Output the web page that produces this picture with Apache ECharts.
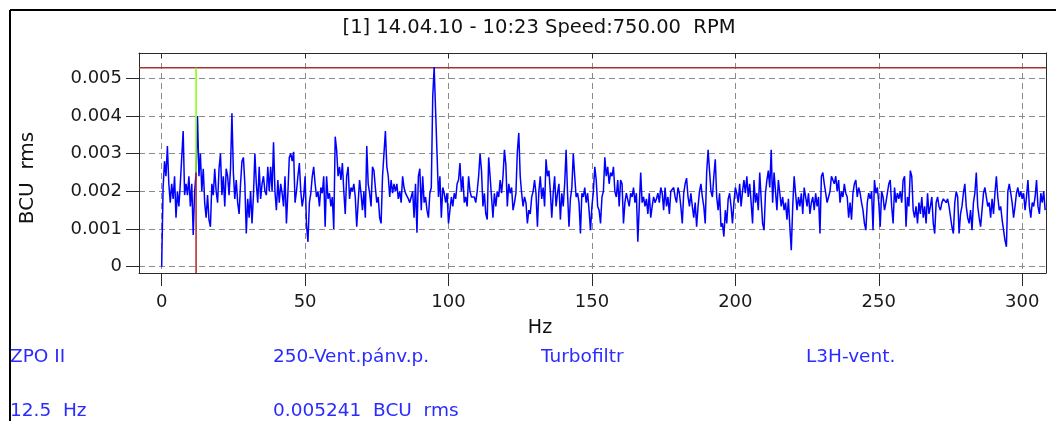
<!DOCTYPE html>
<html><head><meta charset="utf-8">
<script src="https://cdn.jsdelivr.net/npm/echarts@6/dist/echarts.min.js"></script>
<style>html,body{margin:0;padding:0;background:#fff}#c{width:1056px;height:421px}</style>
</head><body><div id="c"></div>
<script>
// ---- data ----
const titleText = '[1] 14.04.10 - 10:23 Speed:750.00  RPM';
const xName = 'Hz';
const yName = 'BCU  rms';
const xTicks = [0, 50, 100, 150, 200, 250, 300];
const yTicks = [0, 0.001, 0.002, 0.003, 0.004, 0.005];
const xRange = [-7.9, 308.3];
const yRange = [-0.000167, 0.00567];
const freqStep = 0.5;           // Hz between spectrum lines
// amplitude in units of 0.001 BCU rms, one value per spectrum line (0 .. 308 Hz)
const amplitudeMilli = [
 0,2.1,2.8,2.4,3.2,2.2,1.7,2.2,1.8,2.4,
 1.3,2.0,1.6,2.2,2.9,3.6,1.9,2.2,1.9,2.4,
 1.6,2.2,0.84,2.0,2.5,4.0,2.4,3.0,2.0,2.6,
 1.7,1.3,1.9,1.24,1.06,2.2,1.9,2.6,2.0,1.7,
 2.6,3.0,1.9,2.4,1.6,2.6,2.4,1.9,2.6,4.07,
 2.5,1.8,2.3,1.7,1.4,2.2,2.8,2.9,2.2,0.88,
 1.8,1.3,2.0,1.15,1.9,3.0,2.2,1.7,2.65,1.8,
 2.2,2.4,2.0,1.9,2.65,2.0,
 2.65,2.0,3.3,2.0,1.5,2.3,1.7,2.2,1.95,1.6,
 2.4,1.15,1.95,2.9,3.0,2.8,3.05,1.7,2.0,2.4,
 2.75,2.0,1.6,1.85,2.4,1.1,0.66,1.7,1.95,2.4,
 2.65,2.2,1.85,2.0,1.6,2.1,1.95,2.4,1.06,2.4,
 1.8,1.95,1.6,1.85,1.0,3.45,3.1,2.4,2.65,2.3,
 2.75,2.0,1.4,2.4,2.65,1.8,2.1,2.0,2.2,1.85,
 1.06,1.7,2.3,1.95,1.5,2.0,1.3,3.2,2.2,1.95,
 1.6,2.65,2.55,2.1,1.7,1.85,1.3,1.15,2.4,3.0,
 3.6,2.65,2.4,1.85,2.3,1.95,2.2,2.0,2.2,1.8,
 2.0,1.7,2.4,2.1,1.95,2.0,1.8,1.7,1.85,2.0,
 1.3,2.2,0.9,2.4,2.6,1.5,2.4,1.7,1.85,1.5,
 1.3,1.95,2.1,4.5,5.3,4.15,3.0,1.85,2.4,1.3,
 2.1,1.95,1.7,1.95,1.15,1.5,1.85,1.6,1.95,1.8,
 2.2,2.3,2.75,2.0,2.4,1.7,1.85,1.6,2.4,2.0,
 1.85,1.8,1.85,1.7,2.0,2.4,3.0,2.55,1.6,1.95,
 1.4,1.25,2.9,2.4,1.85,1.3,1.95,1.6,2.0,1.85,
 2.3,1.95,2.4,3.1,2.7,1.6,2.2,1.95,2.1,1.5,
 1.7,1.95,3.05,3.55,2.4,1.95,1.6,1.85,1.7,1.15,
 1.5,1.4,1.85,2.0,2.3,1.95,1.06,2.0,2.4,1.8,
 2.1,1.6,2.85,2.4,2.55,2.0,1.3,1.95,2.4,1.6,
 1.95,2.2,1.25,1.95,1.6,2.2,3.1,1.95,1.06,1.8,
 2.1,3.0,2.4,1.85,1.95,1.7,0.88,1.95,1.85,2.1,
 1.7,1.95,1.5,0.97,1.6,2.0,2.65,2.3,1.6,1.5,
 1.15,1.85,2.0,2.9,2.4,2.65,2.2,2.5,2.4,2.65,
 2.0,1.85,2.3,1.6,2.3,2.2,1.15,1.7,1.95,2.0,
 1.6,1.95,1.85,2.1,1.7,1.95,0.66,1.6,2.5,1.7,
 1.85,1.6,1.8,1.4,1.95,1.3,1.6,1.85,1.7,1.8,
 1.95,1.7,2.1,1.95,1.5,2.1,1.6,1.85,1.4,2.0,
 1.95,2.1,1.85,1.7,2.1,1.95,1.6,1.15,1.95,2.2,
 2.35,1.85,1.6,1.95,1.6,1.3,1.7,1.06,1.6,2.0,
 2.2,1.85,1.6,1.15,2.5,3.1,3.15,2.0,1.85,2.4,
 2.85,1.85,1.5,1.95,1.06,1.15,0.8,1.5,1.15,1.8,
 1.95,
 1.6,1.15,1.7,2.1,1.95,1.7,2.2,1.6,2.0,2.3,
 1.95,2.4,1.85,2.2,1.7,1.15,2.3,1.7,1.95,1.5,
 2.5,1.8,1.15,0.97,1.95,2.3,2.55,2.1,3.1,1.7,
 2.5,2.0,1.5,2.3,1.95,1.6,1.85,1.5,1.7,1.25,
 1.8,1.06,0.44,1.6,2.4,1.95,1.5,1.85,1.6,1.95,
 1.4,2.1,1.85,1.6,1.95,1.4,1.7,1.85,1.5,1.95,
 1.6,1.85,0.88,2.4,2.5,2.2,1.95,1.7,1.85,2.0,
 2.4,2.3,2.2,2.4,2.0,2.3,1.7,2.0,1.85,2.2,
 1.95,1.85,1.3,1.7,1.25,1.95,2.2,2.3,1.85,2.1,
 1.95,1.7,1.5,1.15,0.97,1.7,1.95,1.8,2.0,0.97,
 2.3,1.95,2.1,1.7,1.06,2.0,1.85,1.5,1.7,1.95,
 2.2,2.3,1.6,1.15,2.1,1.7,1.95,1.8,2.0,1.7,
 2.3,2.4,1.06,1.85,1.6,2.55,2.4,1.5,1.3,1.6,
 1.15,1.7,1.4,1.85,1.3,1.6,1.15,1.95,1.4,1.6,
 1.85,1.15,0.88,1.7,1.85,1.6,1.5,1.7,1.8,1.85,
 1.7,1.8,1.6,1.6,1.06,0.88,1.7,2.0,1.85,0.88,
 1.4,1.6,1.95,2.2,1.6,1.3,1.15,1.5,0.97,1.7,
 1.95,2.5,1.6,1.3,1.06,1.5,1.95,2.1,1.85,1.6,
 1.7,1.3,1.8,1.4,1.95,2.4,1.85,1.5,1.6,1.25,
 0.97,0.7,0.53,2.0,2.2,1.95,1.7,1.3,1.6,1.95,
 2.1,1.85,2.0,1.8,1.95,1.5,1.85,2.3,1.6,1.3,
 1.7,1.6,1.85,2.3,1.6,1.4,1.95,1.7,2.0,1.5
];
const cursorHz = 12;
const cursorLevel = 0.00528;   // horizontal red reference line
const cursorSplit = 0.0025;    // where the cursor turns from red to green
const infoRow1 = ['ZPO II', '250-Vent.pánv.p.', 'Turbofiltr', 'L3H-vent.'];
const infoRow2 = ['12.5  Hz', '0.005241  BCU  rms'];

// ---- chart ----
const FONT = 'DejaVu Sans';
const spectrum = amplitudeMilli.map((v, i) => [i * freqStep, v / 1000]);
const chart = echarts.init(document.getElementById('c'));
const infoX = [10, 273, 541, 806];
const graphics = [
  {type:'line', shape:{x1:10, y1:10, x2:1056, y2:10}, style:{stroke:'#000', lineWidth:2}},
  {type:'line', shape:{x1:10, y1:10, x2:10, y2:421}, style:{stroke:'#000', lineWidth:2}},
  {type:'text', x:539, y:28, style:{text:titleText, fontFamily:FONT, fontSize:19.5, fill:'#111', align:'center', verticalAlign:'middle'}},
  {type:'text', x:28, y:178, rotation:Math.PI/2, style:{text:yName, fontFamily:FONT, fontSize:20, fill:'#111', align:'center', verticalAlign:'middle'}},
  {type:'text', x:540, y:328, style:{text:xName, fontFamily:FONT, fontSize:19, fill:'#111', align:'center', verticalAlign:'middle'}}
];
infoRow1.forEach((t, i) => graphics.push({type:'text', x:infoX[i], y:357, style:{text:t, fontFamily:FONT, fontSize:18.5, fill:'#2b2bff', align:'left', verticalAlign:'middle'}}));
infoRow2.forEach((t, i) => graphics.push({type:'text', x:infoX[i], y:411, style:{text:t, fontFamily:FONT, fontSize:18.5, fill:'#2b2bff', align:'left', verticalAlign:'middle'}}));

const gridLine = {show:true, lineStyle:{color:'#8a8a8a', type:[6,4], width:1}};
const axisCol = '#2a2a2a';
chart.setOption({
  animation:false,
  grid:{left:139, right:10, top:53, bottom:148},
  xAxis:[{
    type:'value', min:xRange[0], max:xRange[1],
    axisLine:{show:true, onZero:false, lineStyle:{color:axisCol, width:1}},
    axisTick:{show:true, length:13, customValues:xTicks, lineStyle:{color:axisCol}},
    axisLabel:{customValues:xTicks, margin:20, fontFamily:FONT, fontSize:18, color:'#1a1a1a'},
    splitLine:gridLine
  },{
    type:'value', position:'top', min:xRange[0], max:xRange[1],
    axisLine:{show:true, onZero:false, lineStyle:{color:axisCol, width:1}},
    axisTick:{show:true, inside:true, length:5, customValues:xTicks, lineStyle:{color:axisCol}},
    axisLabel:{show:false}, splitLine:{show:false}
  }],
  yAxis:[{
    type:'value', min:yRange[0], max:yRange[1],
    axisLine:{show:true, onZero:false, lineStyle:{color:axisCol, width:1}},
    axisTick:{show:true, length:13, customValues:yTicks, lineStyle:{color:axisCol}},
    axisLabel:{customValues:yTicks, margin:17, fontFamily:FONT, fontSize:18, color:'#1a1a1a',
      formatter:v => v === 0 ? '0' : v.toFixed(3)},
    splitLine:gridLine
  },{
    type:'value', position:'right', min:yRange[0], max:yRange[1],
    axisLine:{show:true, onZero:false, lineStyle:{color:axisCol, width:1}},
    axisTick:{show:false}, axisLabel:{show:false}, splitLine:{show:false}
  }],
  series:[{
    type:'line', data:[[xRange[0], cursorLevel], [xRange[1], cursorLevel]], symbol:'none',
    lineStyle:{color:'#a83232', width:1.5}, z:2, silent:true
  },{
    type:'line', data:spectrum, symbol:'none', lineStyle:{color:'#0000ff', width:1.5}, z:3, silent:true
  },{
    type:'line', data:[[cursorHz, yRange[0]], [cursorHz, cursorSplit]], symbol:'none',
    lineStyle:{color:'#b22222', width:1.5}, z:4, silent:true
  },{
    type:'line', data:[[cursorHz, cursorSplit], [cursorHz, cursorLevel]], symbol:'none',
    lineStyle:{color:'#80ff00', width:1.5}, z:4, silent:true
  }],
  graphic:graphics
});
</script></body></html>
